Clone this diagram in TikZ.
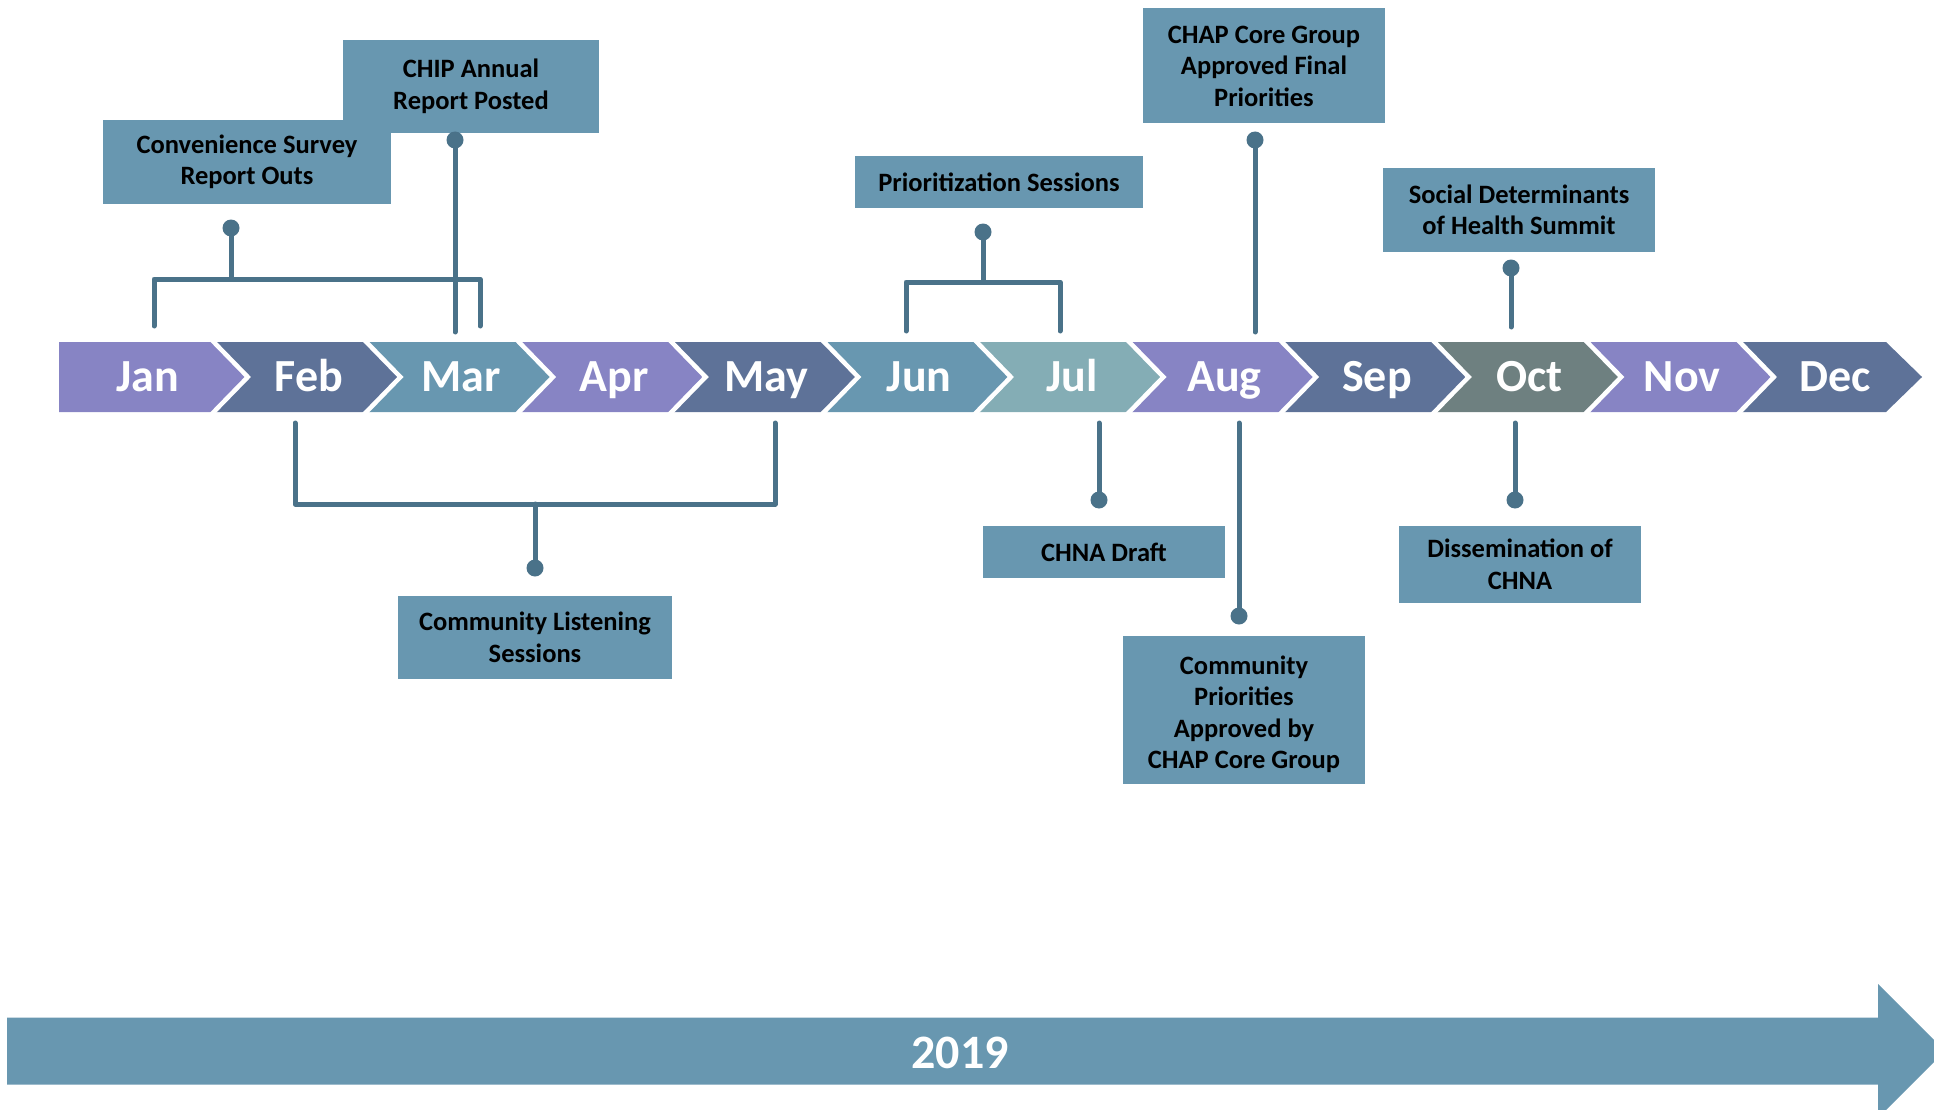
\documentclass[tikz,border=0pt]{standalone}
\usepackage{fontspec}
\setmainfont{Carlito}
\definecolor{cpurple}{RGB}{135,132,196}
\definecolor{cslate}{RGB}{94,114,152}
\definecolor{cteal}{RGB}{104,151,176}
\definecolor{clteal}{RGB}{132,173,181}
\definecolor{cgrey}{RGB}{110,128,128}
\definecolor{cline}{RGB}{74,114,137}
\begin{document}
\begin{tikzpicture}[x=1pt,y=-1pt,
  box/.style={fill=cteal, inner sep=0pt, align=center, text=black,
    font=\fontsize{26.5}{31.5}\selectfont\bfseries},
  conn/.style={draw=cline, line width=5pt, line cap=round, line join=round},
  dotnode/.style={circle, fill=cline, minimum size=17pt, inner sep=0pt},
  month/.style={text=white, anchor=base, inner sep=0pt, font=\fontsize{46}{46}\selectfont\bfseries}]
\useasboundingbox (0,0) rectangle (1934,1110);

% ---------- chevrons ----------
\fill[cpurple] (59,342) -- (210.8,342) -- (247.8,377) -- (210.8,412) -- (59,412) -- cycle;
\node[month] (mJan) at (148,391.5) {Jan};
\foreach \i/\m/\c in {1/Feb/cslate, 2/Mar/cteal, 3/Apr/cpurple, 4/May/cslate,
  5/Jun/cteal, 6/Jul/clteal, 7/Aug/cpurple, 8/Sep/cslate, 9/Oct/cgrey,
  10/Nov/cpurple} {
  \pgfmathsetmacro\b{210.8+152.6*(\i-1)}
  \fill[\c] (\b,342) -- (\b+152.6,342) -- (\b+189.6,377) -- (\b+152.6,412)
     -- (\b,412) -- (\b+37,377) -- cycle;
  \draw[white, line width=4.5pt] (\b,339) -- (\b+37,377) -- (\b,415);
  \node[month] (m\m) at (\b+98,391.5) {\m};
}
\fill[cslate] (1736.8,342) -- (1886,342) -- (1922,377) -- (1886,412)
   -- (1736.8,412) -- (1773.8,377) -- cycle;
\draw[white, line width=4.5pt] (1736.8,339) -- (1773.8,377) -- (1736.8,415);
\node[month] (mDec) at (1834.8,391.5) {Dec};

% ---------- 2019 arrow ----------
\begin{scope}
\clip (0,0) rectangle (1934,1110);
\fill[cteal] (7,1017.5) -- (1878,1017.5) -- (1878,984) -- (1945,1051)
  -- (1878,1118) -- (1878,1084.5) -- (7,1084.5) -- cycle;
\end{scope}
\node[text=white, anchor=base, inner sep=0pt, font=\fontsize{48}{48}\selectfont\bfseries]
  (year) at (960,1068) {2019};

% ---------- boxes ----------
\node[box, minimum width=288pt, minimum height=84pt] (conv) at (247,162)
  {Convenience Survey\\Report Outs};
\node[box, minimum width=256pt, minimum height=93pt] (chip) at (471,86.5)
  {CHIP Annual\\Report Posted};
\node[box, minimum width=288pt, minimum height=52pt] (prio) at (999,182)
  {Prioritization Sessions};
\node[box, minimum width=242pt, minimum height=115pt] (chap) at (1264,66)
  {CHAP Core Group\\Approved Final\\Priorities};
\node[box, minimum width=272pt, minimum height=84pt] (sdoh) at (1519,210)
  {Social Determinants\\of Health Summit};
\node[box, minimum width=274pt, minimum height=83pt] (cls) at (535,637.5)
  {Community Listening\\Sessions};
\node[box, minimum width=242pt, minimum height=52pt] (chna) at (1104,552)
  {CHNA Draft};
\node[box, minimum width=242pt, minimum height=148pt] (cpri) at (1244,710)
  {\\[-4pt]Community\\Priorities\\Approved by\\CHAP Core Group};
\node[box, minimum width=242pt, minimum height=77pt] (diss) at (1520,564.5)
  {Dissemination of\\CHNA};

% ---------- connector points ----------
\coordinate (convJ) at (231,279);
\coordinate (convL) at (154,326);
\coordinate (convR) at (480,326);
\coordinate (chipE) at (455,332);
\coordinate (prioJ) at (983,282);
\coordinate (prioL) at (906,331);
\coordinate (prioR) at (1060,331);
\coordinate (chapE) at (1255,332);
\coordinate (sdohE) at (1511,327);
\coordinate (clsJ) at (535,504);
\coordinate (clsL) at (295,423);
\coordinate (clsR) at (775,423);
\coordinate (chnaE) at (1099,423);
\coordinate (cpriE) at (1239,423);
\coordinate (dissE) at (1515,423);

% ---------- connectors ----------
\node[dotnode] (dconv) at (231,228) {};
\node[dotnode] (dchip) at (455,140) {};
\node[dotnode] (dprio) at (983,232) {};
\node[dotnode] (dchap) at (1255,140) {};
\node[dotnode] (dsdoh) at (1511,268) {};
\node[dotnode] (dcls) at (535,568) {};
\node[dotnode] (dchna) at (1099,500) {};
\node[dotnode] (dcpri) at (1239,616) {};
\node[dotnode] (ddiss) at (1515,500) {};

\draw[conn] (dconv.center) -- (convJ);
\draw[conn] (convL) |- (convJ) -| (convR);
\draw[conn] (dchip.center) -- (chipE);
\draw[conn] (dprio.center) -- (prioJ);
\draw[conn] (prioL) |- (prioJ) -| (prioR);
\draw[conn] (dchap.center) -- (chapE);
\draw[conn] (dsdoh.center) -- (sdohE);
\draw[conn] (clsL) |- (clsJ) -| (clsR);
\draw[conn] (clsJ) -- (dcls.center);
\draw[conn] (chnaE) -- (dchna.center);
\draw[conn] (cpriE) -- (dcpri.center);
\draw[conn] (dissE) -- (ddiss.center);
\end{tikzpicture}
\end{document}
